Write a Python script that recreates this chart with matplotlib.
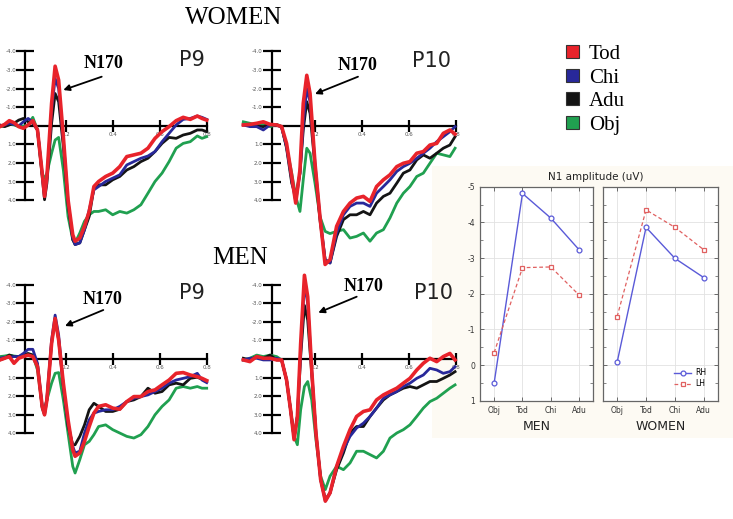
import matplotlib
matplotlib.use("Agg")
from matplotlib import pyplot as plt
from matplotlib.patches import Patch

plt.rcParams["axes.unicode_minus"] = False

W, H = 733, 519

# ---------------- ERP data (uV, negative up), time in seconds ----------------
t_p9 = [-0.08, -0.06, -0.04, -0.02, 0.0, 0.02, 0.04, 0.06, 0.08, 0.10, 0.11, 0.12, 0.14, 0.155,
        0.17, 0.19, 0.21, 0.23, 0.24, 0.26, 0.28, 0.30, 0.32, 0.34, 0.37, 0.40, 0.43, 0.46, 0.49,
        0.52, 0.55, 0.58, 0.61, 0.64, 0.67, 0.70, 0.73, 0.76, 0.78, 0.80]

w_p9_tod = [0.05, -0.07, -0.27, -0.16, 0.05, 0.14, -0.04, -0.27, 0.23, 2.55, 3.80, 2.73, -1.20, -3.20,
            -2.45, 0.59, 3.98, 5.86, 6.21, 6.04, 5.41, 4.61, 3.27, 3.00, 2.73, 2.55, 2.20, 1.66, 1.57,
            1.48, 1.21, 0.68, 0.32, 0.05, -0.27, -0.45, -0.34, -0.52, -0.39, -0.30]
w_p9_chi = [0.02, -0.04, -0.13, -0.07, 0.02, -0.21, -0.39, -0.21, 0.23, 2.55, 3.80, 2.82, -0.84, -2.54,
            -2.00, 0.77, 4.07, 6.04, 6.39, 6.30, 5.59, 4.52, 3.45, 3.27, 3.00, 2.82, 2.64, 2.11, 1.93,
            1.75, 1.63, 1.39, 0.86, 0.41, -0.04, -0.34, -0.39, -0.52, -0.45, -0.34]
w_p9_adu = [-0.04, 0.05, -0.04, -0.13, -0.30, -0.39, -0.21, -0.13, 0.23, 2.73, 3.98, 3.09, -0.13, -1.73,
            -1.29, 1.13, 4.25, 6.13, 6.39, 6.30, 5.59, 4.88, 3.36, 3.18, 3.18, 2.91, 2.73, 2.38, 2.20,
            1.93, 1.75, 1.39, 0.95, 0.63, 0.68, 0.50, 0.41, 0.23, 0.23, 0.32]
w_p9_obj = [0.05, 0.02, -0.07, -0.04, 0.05, 0.02, -0.04, -0.45, 0.23, 2.64, 2.82, 2.55, 1.48, 0.77,
            0.63, 2.38, 4.88, 6.13, 6.30, 5.77, 5.14, 4.79, 4.61, 4.61, 4.52, 4.79, 4.61, 4.70, 4.52,
            4.25, 3.63, 3.00, 2.55, 1.93, 1.21, 0.95, 0.86, 0.55, 0.68, 0.59]

m_p9_tod = [0.05, -0.04, -0.13, 0.23, -0.04, -0.13, -0.21, -0.13, 0.41, 2.55, 3.00, 2.20, -0.84, -2.18,
            -1.02, 1.30, 3.27, 4.88, 5.23, 5.05, 4.43, 3.63, 2.91, 2.55, 2.46, 2.64, 2.70, 2.29, 2.02,
            2.02, 1.75, 1.66, 1.39, 1.13, 0.77, 0.73, 0.86, 0.95, 1.04, 1.16]
m_p9_chi = [-0.04, -0.09, -0.09, -0.13, -0.13, -0.30, -0.52, -0.52, 0.23, 2.55, 2.91, 2.11, -1.02, -2.36,
            -1.29, 1.48, 3.45, 4.70, 5.05, 4.96, 3.98, 3.27, 2.91, 2.82, 2.73, 2.73, 2.55, 2.29, 2.11,
            2.02, 1.93, 1.75, 1.57, 1.30, 1.13, 1.04, 0.95, 0.77, 1.13, 1.27]
m_p9_adu = [0.05, -0.04, -0.21, -0.13, -0.13, -0.21, -0.30, -0.21, 0.32, 2.64, 3.00, 2.20, -0.84, -2.13,
            -1.02, 1.48, 3.63, 4.61, 4.61, 4.16, 3.54, 2.73, 2.38, 2.55, 2.82, 2.82, 2.70, 2.29, 2.20,
            2.02, 1.57, 1.84, 1.75, 1.39, 1.30, 1.39, 1.04, 0.98, 1.09, 1.21]
m_p9_obj = [-0.13, -0.16, -0.21, -0.16, -0.13, -0.16, -0.25, -0.21, 0.59, 2.55, 2.64, 2.20, 1.30, 0.77,
            0.73, 2.20, 4.00, 5.77, 6.13, 5.41, 4.61, 4.43, 4.07, 3.63, 3.54, 3.80, 3.98, 4.16, 4.25,
            4.07, 3.63, 3.00, 2.55, 2.20, 1.57, 1.48, 1.57, 1.48, 1.57, 1.57]

t_w_p10 = [-0.105, -0.077, -0.048, -0.02, 0.009, 0.037, 0.058, 0.079, 0.101, 0.118, 0.136, 0.15, 0.165,
           0.179, 0.2, 0.221, 0.243, 0.264, 0.292, 0.321, 0.349, 0.377, 0.406, 0.434, 0.462, 0.491,
           0.519, 0.548, 0.576, 0.604, 0.633, 0.661, 0.689, 0.718, 0.746, 0.774, 0.796]
w_p10_tod = [-0.04, -0.07, -0.13, -0.21, -0.07, -0.04, 0.05, 0.95, 2.73, 4.16, 2.38, -1.20, -2.71,
             -1.73, 2.02, 4.88, 7.46, 7.20, 5.41, 4.61, 4.16, 3.89, 3.80, 4.07, 3.27, 2.91, 2.64, 2.20,
             2.02, 1.93, 1.48, 1.39, 1.04, 0.95, 0.41, 0.23, 0.45]
w_p10_chi = [-0.04, 0.05, 0.05, 0.23, -0.04, -0.04, 0.09, 1.13, 2.91, 4.07, 2.55, -0.13, -2.00, -1.29,
             2.02, 4.88, 7.20, 7.38, 5.77, 4.79, 4.34, 4.16, 4.16, 4.34, 3.63, 3.27, 2.91, 2.46, 2.20,
             2.02, 1.75, 1.48, 1.21, 0.86, 0.59, 0.32, 0.05]
w_p10_adu = [-0.04, -0.04, 0.02, 0.05, -0.07, -0.04, 0.05, 1.21, 3.09, 3.80, 2.55, 0.23, -1.29, -0.66,
             2.20, 5.05, 7.20, 7.38, 5.95, 5.05, 4.79, 4.79, 4.61, 4.79, 4.16, 3.80, 3.63, 3.09, 2.55,
             2.38, 1.84, 1.57, 1.75, 1.48, 1.21, 1.04, 0.59]
w_p10_obj = [-0.21, -0.13, -0.04, -0.07, 0.05, -0.07, 0.05, 1.13, 2.55, 3.80, 4.61, 2.91, 1.21, 1.48,
             3.09, 4.88, 5.68, 5.80, 5.68, 5.59, 6.04, 5.95, 5.77, 6.21, 5.77, 5.59, 4.96, 4.16, 3.63,
             3.27, 2.73, 2.55, 2.02, 1.48, 1.57, 1.66, 1.21]

t_m_p10 = [-0.105, -0.077, -0.048, -0.02, 0.009, 0.037, 0.058, 0.079, 0.096, 0.111, 0.125, 0.139, 0.155,
           0.169, 0.186, 0.204, 0.224, 0.244, 0.264, 0.292, 0.321, 0.349, 0.377, 0.406, 0.434, 0.462,
           0.491, 0.519, 0.548, 0.576, 0.604, 0.633, 0.661, 0.689, 0.718, 0.746, 0.774, 0.796]
m_p10_tod = [0.05, 0.14, -0.13, -0.04, -0.04, 0.05, 0.05, 1.13, 2.73, 4.34, 3.09, -0.84, -4.50, -3.34,
             0.59, 3.98, 6.48, 7.64, 7.20, 5.77, 4.70, 3.80, 3.09, 2.82, 2.73, 2.20, 1.93, 1.75, 1.57,
             1.30, 1.04, 0.59, 0.23, -0.04, 0.14, -0.13, -0.30, 0.05]
m_p10_chi = [0.05, -0.04, -0.04, 0.05, 0.05, -0.04, 0.05, 1.13, 2.73, 4.25, 3.09, -0.48, -4.05, -2.98,
             0.59, 3.98, 6.48, 7.64, 7.20, 5.77, 4.88, 4.16, 3.71, 3.45, 3.09, 2.64, 2.11, 1.93, 1.75,
             1.48, 1.30, 1.04, 0.86, 0.50, 0.59, 0.77, 0.68, 0.41]
m_p10_adu = [-0.04, 0.05, -0.13, -0.04, -0.21, 0.05, 0.05, 1.13, 2.73, 4.25, 3.09, -0.13, -2.88, -2.09,
             0.77, 3.98, 6.48, 7.55, 7.20, 5.95, 5.05, 3.98, 3.63, 3.63, 3.09, 2.64, 2.20, 1.93, 1.75,
             1.57, 1.48, 1.57, 1.39, 1.21, 1.21, 1.04, 0.86, 0.68]
m_p10_obj = [0.05, -0.04, -0.21, -0.13, -0.21, -0.13, 0.05, 1.13, 2.73, 4.16, 4.61, 2.73, 1.48, 1.21,
             2.20, 4.34, 6.30, 7.02, 6.30, 5.77, 5.95, 5.59, 4.96, 4.96, 5.14, 5.32, 4.96, 4.25, 3.98,
             3.80, 3.54, 3.09, 2.64, 2.29, 2.11, 1.84, 1.57, 1.39]

conditions = ["Tod", "Chi", "Adu", "Obj"]
cond_colors = {"Tod": "#e8232b", "Chi": "#28289a", "Adu": "#141414", "Obj": "#20a050"}

# ---------------- N1 amplitude data ----------------
categories = ["Obj", "Tod", "Chi", "Adu"]
men_rh = [0.50, -4.81, -4.12, -3.23]
men_lh = [-0.35, -2.73, -2.75, -1.96]
women_rh = [-0.08, -3.86, -2.99, -2.45]
women_lh = [-1.36, -4.35, -3.86, -3.23]

fig = plt.figure(figsize=(W / 100, H / 100), dpi=100)
fig.patch.set_facecolor("white")


def box(left, top, right, bottom):
    return [left / W, 1 - bottom / H, (right - left) / W, (bottom - top) / H]


# faint cream background behind the N1 picture
bg = fig.add_axes(box(432, 166, 733, 438), zorder=-5)
bg.set_facecolor("#fdfaf3")
bg.set_xticks([])
bg.set_yticks([])
for s in bg.spines.values():
    s.set_visible(False)


def erp_panel(rect, x0, y0, t_axis, times, series):
    left, top, right, bottom = rect
    ax = fig.add_axes(box(*rect))
    ax.set_facecolor("none")
    ax.set_xlim((left - x0) / 235, (right - x0) / 235)
    ax.set_ylim((bottom - y0) / 18.6, (top - y0) / 18.6)
    for name in ["Obj", "Adu", "Chi", "Tod"]:
        lw = 2.6 if name == "Tod" else 2.0
        ax.plot(times, series[name], color=cond_colors[name], lw=lw, zorder=3,
                solid_joinstyle="round", clip_on=False)
    ax.spines["top"].set_visible(False)
    ax.spines["right"].set_visible(False)
    ax.spines["left"].set_position(("data", t_axis))
    ax.spines["bottom"].set_position(("data", 0))
    ax.spines["left"].set_bounds(-4, 4)
    ax.spines["bottom"].set_bounds(t_axis, 0.8)
    for s in ["left", "bottom"]:
        ax.spines[s].set_linewidth(1.6)
    ax.set_yticks([-4, -3, -2, -1, 1, 2, 3, 4])
    ax.set_yticklabels(["-4.0", "-3.0", "-2.0", "-1.0", "1.0", "2.0", "3.0", "4.0"])
    ax.set_xticks([0.2, 0.4, 0.6, 0.8])
    ax.set_xticklabels(["0.2", "0.4", "0.6", "0.8"])
    ax.tick_params(axis="y", direction="inout", length=13, width=1.6, labelsize=4,
                   labelcolor="#555555", pad=0)
    ax.tick_params(axis="x", direction="inout", length=9, width=1.6, labelsize=4,
                   labelcolor="#555555", pad=0)
    return ax


erp_panel((0, 35, 228, 268), 18.7, 125.7, 0.027, t_p9,
          {"Tod": w_p9_tod, "Chi": w_p9_chi, "Adu": w_p9_adu, "Obj": w_p9_obj})
erp_panel((232, 35, 468, 268), 268, 125.7, 0.016, t_w_p10,
          {"Tod": w_p10_tod, "Chi": w_p10_chi, "Adu": w_p10_adu, "Obj": w_p10_obj})
erp_panel((0, 270, 228, 519), 18.7, 359, 0.027, t_p9,
          {"Tod": m_p9_tod, "Chi": m_p9_chi, "Adu": m_p9_adu, "Obj": m_p9_obj})
erp_panel((232, 270, 468, 519), 268, 359, 0.016, t_m_p10,
          {"Tod": m_p10_tod, "Chi": m_p10_chi, "Adu": m_p10_adu, "Obj": m_p10_obj})

# ---------------- N1 amplitude line charts ----------------
for rect, rh, lh, label, first in [((480, 186.7, 593.3, 400.7), men_rh, men_lh, "MEN", True),
                                   ((602.7, 186.7, 718.3, 400.7), women_rh, women_lh, "WOMEN", False)]:
    ax = fig.add_axes(box(*rect), zorder=2)
    ax.set_facecolor("white")
    ax.plot(categories, rh, color="#5a5ad8", lw=1.0, marker="o", ms=3.5,
            mfc="white", mec="#5a5ad8", mew=0.9, label="RH", zorder=3)
    ax.plot(categories, lh, color="#e06060", lw=0.9, ls=(0, (3, 2)), marker="s", ms=3.3,
            mfc="white", mec="#e06060", mew=0.9, label="LH", zorder=3)
    ax.set_xlim(-0.5, 3.5)
    ax.set_ylim(1, -5)
    ax.set_yticks([-5, -4, -3, -2, -1, 0, 1])
    ax.set_yticks([-4.5, -3.5, -2.5, -1.5, -0.5, 0.5], minor=True)
    ax.grid(True, color="#e2e2e2", lw=0.6)
    ax.tick_params(direction="in", length=3, width=0.6, colors="#555555", labelsize=5.5,
                   top=True, right=True, labelcolor="#333333")
    ax.tick_params(which="minor", direction="in", length=2, width=0.5, colors="#555555",
                   right=True, left=True)
    if not first:
        ax.tick_params(labelleft=False)
    for s in ax.spines.values():
        s.set_color("#666666")
        s.set_linewidth(0.9)
    ax.set_xlabel(label, fontsize=9, color="#222222", labelpad=4)
    if not first:
        ax.legend(loc="lower right", frameon=False, fontsize=5.5, handlelength=2.2,
                  borderaxespad=1.2, labelspacing=0.3, handletextpad=0.5)

# ---------------- overlay texts ----------------
ov = fig.add_axes([0, 0, 1, 1], zorder=5)
ov.set_xlim(0, W)
ov.set_ylim(H, 0)
ov.axis("off")
ov.patch.set_alpha(0)

ov.text(234, 18, "WOMEN", fontsize=18, family="Liberation Serif", ha="center", va="center")
ov.text(240, 258, "MEN", fontsize=18, family="Liberation Serif", ha="center", va="center")
ov.text(596, 177.5, "N1 amplitude (uV)", fontsize=7.5, ha="center", va="center", color="#222222")

for lab, tx, ty in [("P9", 191.7, 60), ("P10", 432, 60.7), ("P9", 191.7, 293.3), ("P10", 433, 293.3)]:
    ov.text(tx, ty, lab, fontsize=15, ha="center", va="center", color="#222222")

for tx, ty, tail, head in [(104, 64, (101.7, 76.7), (63.3, 90)),
                           (358, 65, (358, 76.7), (315, 94)),
                           (102.5, 299, (103.3, 310), (65, 326)),
                           (364, 286.7, (356.7, 296.7), (318.3, 312.7))]:
    ov.text(tx, ty, "N170", fontsize=13, family="Liberation Serif", weight="bold",
            ha="center", va="center")
    ov.annotate("", xy=head, xytext=tail,
                arrowprops=dict(arrowstyle="-|>", lw=1.3, color="black", mutation_scale=9,
                                shrinkA=0, shrinkB=0))

handles = [Patch(facecolor=cond_colors[c], edgecolor="#333333", lw=0.8) for c in conditions]
fig.legend(handles, conditions, loc="upper left", bbox_to_anchor=(566 / W, 1 - 45 / H),
           frameon=False, prop={"family": "Liberation Serif", "size": 15},
           handlelength=0.6, handleheight=0.6, handletextpad=0.5, labelspacing=0.22,
           borderpad=0, borderaxespad=0)

fig.savefig("out.png", dpi=100)
